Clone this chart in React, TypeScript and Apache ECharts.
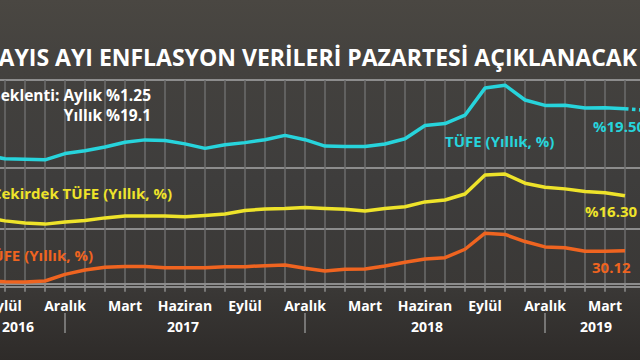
import React, { useEffect, useRef } from "react";
import * as echarts from "echarts";

const categories = [
  "Ağustos 2016", "Eylül 2016", "Ekim 2016", "Kasım 2016", "Aralık 2016",
  "Ocak 2017", "Şubat 2017", "Mart 2017", "Nisan 2017", "Mayıs 2017", "Haziran 2017",
  "Temmuz 2017", "Ağustos 2017", "Eylül 2017", "Ekim 2017", "Kasım 2017", "Aralık 2017",
  "Ocak 2018", "Şubat 2018", "Mart 2018", "Nisan 2018", "Mayıs 2018", "Haziran 2018",
  "Temmuz 2018", "Ağustos 2018", "Eylül 2018", "Ekim 2018", "Kasım 2018", "Aralık 2018",
  "Ocak 2019", "Şubat 2019", "Mart 2019", "Nisan 2019", "Mayıs 2019",
];

// TÜFE (Yıllık, %)
const tufe = [
  8.05, 7.28, 7.16, 7.0, 8.53,
  9.22, 10.13, 11.29, 11.87, 11.72, 10.9, 9.79, 10.68, 11.2, 11.9, 12.98, 11.92,
  10.35, 10.26, 10.23, 10.85, 12.15, 15.39, 15.85, 17.9, 24.52, 25.24, 21.62, 20.3,
  20.35, 19.67, 19.71, 19.5, null,
];

// Çekirdek TÜFE (Yıllık, %)
const cekirdek = [
  8.4, 7.0, 6.2, 5.8, 6.6,
  7.1, 8.1, 8.8, 8.8, 8.8, 8.5, 9.0, 9.5, 10.8, 11.4, 11.6, 11.9,
  11.6, 11.3, 10.6, 11.6, 12.2, 14.0, 14.7, 16.9, 23.9, 24.3, 20.9, 19.4,
  18.8, 17.8, 17.4, 16.3, null,
];

// ÜFE (Yıllık, %)
const ufe = [
  3.03, 1.78, 1.6, 2.5, 8.5,
  12.5, 15.0, 15.7, 15.7, 14.6, 14.6, 14.6, 15.6, 15.6, 16.5, 17.1, 14.1,
  11.6, 13.2, 13.5, 16.2, 19.6, 22.6, 23.8, 31.5, 46.15, 45.01, 38.54, 33.64,
  32.93, 29.59, 29.64, 30.12, null,
];

const beklentiAylik = 1.25;
const beklentiYillik = 19.1;
const quarterMonths = ["Mart", "Haziran", "Eylül", "Aralık"];
const yearLabels = ["2016", "2017", "2018", "2019"];

const CYAN = "#27d4dc";
const YELLOW = "#eee32a";
const ORANGE = "#ef6420";
const FONT = "Open Sans";

export default function App() {
  const ref = useRef<HTMLDivElement>(null);

  useEffect(() => {
    const chart = echarts.init(ref.current!, null, { renderer: "svg" });
    const lastIdx = tufe.length - 2;
    const forecast = tufe.map((v, i) =>
      i === lastIdx ? v : i === lastIdx + 1 ? beklentiYillik : null
    );

    const panels = [
      { top: 80, height: 88, min: 5, max: 26.5 },
      { top: 168, height: 61, min: 4, max: 26.5 },
      { top: 229, height: 58, min: -3, max: 50 },
    ];

    const grid = panels.map((p) => ({
      left: -15,
      width: 660,
      top: p.top,
      height: p.height,
      containLabel: false,
      outerBoundsMode: "none",
      show: true,
      borderColor: "#8c8c8c",
      borderWidth: 2,
      backgroundColor: "transparent",
    }));

    const baseX = (i: number) => ({
      type: "category",
      gridIndex: i,
      data: categories,
      boundaryGap: false,
      axisLine: { show: false },
      axisTick: { show: false },
      axisLabel: { show: false },
      splitLine: { show: true, interval: 0, lineStyle: { color: "#6c6c6c", width: 1.5 } },
    });

    const xAxis: any[] = [baseX(0), baseX(1), baseX(2)];
    xAxis[2] = {
      ...xAxis[2],
      axisLine: { show: true, lineStyle: { color: "#8c8c8c", width: 2 } },
      axisTick: { show: true, interval: 0, length: 8, lineStyle: { color: "#8c8c8c", width: 1.5 } },
      axisLabel: {
        show: true,
        interval: (_i: number, v: string) => quarterMonths.includes(v.split(" ")[0]),
        formatter: (v: string) => v.split(" ")[0],
        color: "#ffffff",
        fontFamily: FONT,
        fontWeight: "bold",
        fontSize: 14,
        margin: 11,
      },
    };
    xAxis.push({
      type: "category",
      gridIndex: 2,
      data: categories,
      boundaryGap: false,
      position: "bottom",
      offset: 26,
      axisLine: { show: false },
      axisTick: {
        show: true,
        interval: (_i: number, v: string) => v.startsWith("Aralık"),
        length: 20,
        lineStyle: { color: "#8c8c8c", width: 1.5 },
      },
      axisLabel: { show: false },
      splitLine: { show: false },
    });

    const yAxis = panels.map((p, i) => ({
      type: "value",
      gridIndex: i,
      min: p.min,
      max: p.max,
      show: false,
    }));

    const lineSeries = (data: any[], color: string, idx: number, extra: any = {}) => ({
      type: "line",
      data,
      xAxisIndex: idx,
      yAxisIndex: idx,
      symbol: "none",
      connectNulls: false,
      lineStyle: { color, width: 3.5, ...(extra.lineStyle || {}) },
      z: 5,
    });

    const txt = (text: string, x: number, y: number, color: string, size: number, align = "left") => ({
      type: "text",
      x,
      y,
      z: 10,
      style: {
        text,
        fill: color,
        fontFamily: FONT,
        fontWeight: "bold",
        fontSize: size,
        align,
        verticalAlign: "middle",
      },
    });

    const graphic = [
      txt("MAYIS AYI ENFLASYON VERİLERİ PAZARTESİ AÇIKLANACAK", 637, 57, "#ffffff", 23, "right"),
      txt(`Beklenti: Aylık %${beklentiAylik.toFixed(2)}`, 151, 95, "#ffffff", 15.5, "right"),
      txt(`Yıllık %${beklentiYillik.toFixed(1)}`, 151, 115, "#ffffff", 15.5, "right"),
      txt("TÜFE (Yıllık, %)", 445, 141, CYAN, 15),
      txt(`%${(tufe[lastIdx] as number).toFixed(2)}`, 593, 126, CYAN, 15),
      txt("Çekirdek TÜFE (Yıllık, %)", 172, 193, YELLOW, 15, "right"),
      txt(`%${(cekirdek[lastIdx] as number).toFixed(2)}`, 585, 211, YELLOW, 15),
      txt("ÜFE (Yıllık, %)", 93, 255, ORANGE, 15, "right"),
      txt(`${(ufe[lastIdx] as number).toFixed(2)}`, 592, 267, ORANGE, 15),
      txt(yearLabels[0], 18, 326, "#ffffff", 14, "center"),
      txt(yearLabels[1], 183, 326, "#ffffff", 14, "center"),
      txt(yearLabels[2], 427, 326, "#ffffff", 14, "center"),
      txt(yearLabels[3], 596, 326, "#ffffff", 14, "center"),
    ];

    chart.setOption({
      animation: false,
      backgroundColor: {
        type: "linear",
        x: 0,
        y: 0,
        x2: 0,
        y2: 1,
        colorStops: [
          { offset: 0, color: "#4a4742" },
          { offset: 0.2, color: "#43413e" },
          { offset: 0.5, color: "#3e3d3c" },
          { offset: 0.8, color: "#3a3836" },
          { offset: 1, color: "#2e2b29" },
        ],
      },
      grid,
      xAxis,
      yAxis,
      series: [
        lineSeries(tufe, CYAN, 0),
        lineSeries(forecast, CYAN, 0, { lineStyle: { type: "dotted" } }),
        lineSeries(cekirdek, YELLOW, 1),
        lineSeries(ufe, ORANGE, 2),
      ],
      graphic,
    });

    return () => chart.dispose();
  }, []);

  return (
    <div
      ref={ref}
      style={{ position: "fixed", left: 0, top: 0, width: 640, height: 360 }}
    />
  );
}
